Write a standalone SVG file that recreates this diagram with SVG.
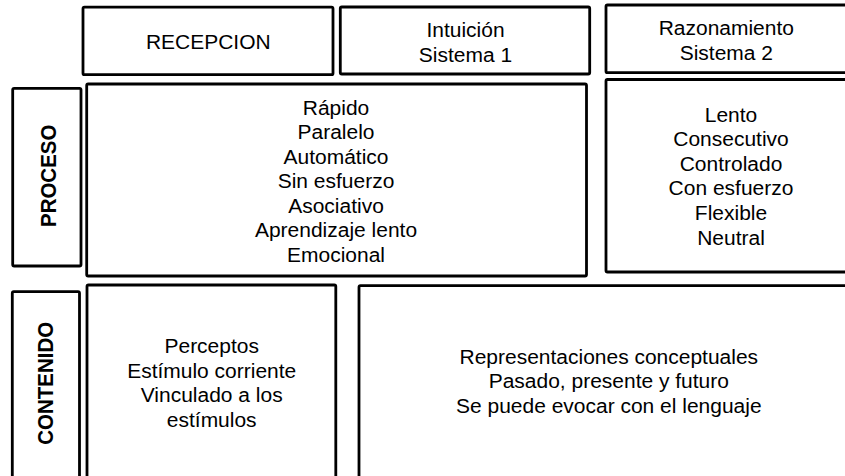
<svg xmlns="http://www.w3.org/2000/svg" width="845" height="476" viewBox="0 0 845 476">
<style>
.box{fill:#fff;stroke:#000;stroke-width:2.8}
.t{font-family:"Liberation Sans",Arial,sans-serif;font-size:19.8px;fill:#000;text-anchor:middle}
.v{font-family:"Liberation Sans",Arial,sans-serif;font-size:20.5px;font-weight:bold;fill:#000;text-anchor:middle}
</style>
<rect width="845" height="476" fill="#fff"/>
<g id="recepcion">
<rect class="box" x="83" y="7.2" width="250" height="67.5" rx="1.5"/>
<text class="t" transform="translate(208.3,49) scale(1.06,1)">RECEPCION</text>
</g>
<g id="intuicion">
<rect class="box" x="340.3" y="7" width="249.4" height="67" rx="1.5"/>
<text class="t" transform="translate(465.5,0) scale(1.06,1)"><tspan x="0" y="37.5">Intuición</tspan><tspan x="0" y="62">Sistema 1</tspan></text>
</g>
<g id="razonamiento">
<rect class="box" x="606" y="5" width="250" height="67.7" rx="1.5"/>
<text class="t" transform="translate(726.3,0) scale(1.06,1)"><tspan x="0" y="35.5">Razonamiento</tspan><tspan x="0" y="60">Sistema 2</tspan></text>
</g>
<g id="proceso-label">
<rect class="box" x="12.7" y="88.3" width="68.3" height="177.7" rx="1.5"/>
<text class="v" transform="translate(55.7,175.8) scale(1.06,1) rotate(-90)">PROCESO</text>
</g>
<g id="proceso-sistema1">
<rect class="box" x="86.7" y="84" width="499.8" height="192" rx="1.5"/>
<text class="t" transform="translate(336,0) scale(1.06,1)"><tspan x="0" y="115">Rápido</tspan><tspan x="0" y="139.5">Paralelo</tspan><tspan x="0" y="164">Automático</tspan><tspan x="0" y="188.5">Sin esfuerzo</tspan><tspan x="0" y="213">Asociativo</tspan><tspan x="0" y="237.5">Aprendizaje lento</tspan><tspan x="0" y="262">Emocional</tspan></text>
</g>
<g id="proceso-sistema2">
<rect class="box" x="606" y="79.5" width="250" height="192.5" rx="1.5"/>
<text class="t" transform="translate(731,0) scale(1.06,1)"><tspan x="0" y="121.7">Lento</tspan><tspan x="0" y="146.3">Consecutivo</tspan><tspan x="0" y="170.9">Controlado</tspan><tspan x="0" y="195.5">Con esfuerzo</tspan><tspan x="0" y="220.1">Flexible</tspan><tspan x="0" y="244.7">Neutral</tspan></text>
</g>
<g id="contenido-label">
<rect class="box" x="12.3" y="291.7" width="67.2" height="200" rx="1.5"/>
<text class="v" transform="translate(53,383.3) scale(1.06,1) rotate(-90)">CONTENIDO</text>
</g>
<g id="contenido-sistema1">
<rect class="box" x="87" y="285" width="248.8" height="200" rx="1.5"/>
<text class="t" transform="translate(211.7,0) scale(1.06,1)"><tspan x="0" y="353.5">Perceptos</tspan><tspan x="0" y="378">Estímulo corriente</tspan><tspan x="0" y="402.5">Vinculado a los</tspan><tspan x="0" y="427">estímulos</tspan></text>
</g>
<g id="contenido-sistema2">
<rect class="box" x="359" y="285.7" width="500" height="200" rx="1.5"/>
<text class="t" transform="translate(608.8,0) scale(1.06,1)"><tspan x="0" y="364">Representaciones conceptuales</tspan><tspan x="0" y="388.5">Pasado, presente y futuro</tspan><tspan x="0" y="413">Se puede evocar con el lenguaje</tspan></text>
</g>
</svg>
